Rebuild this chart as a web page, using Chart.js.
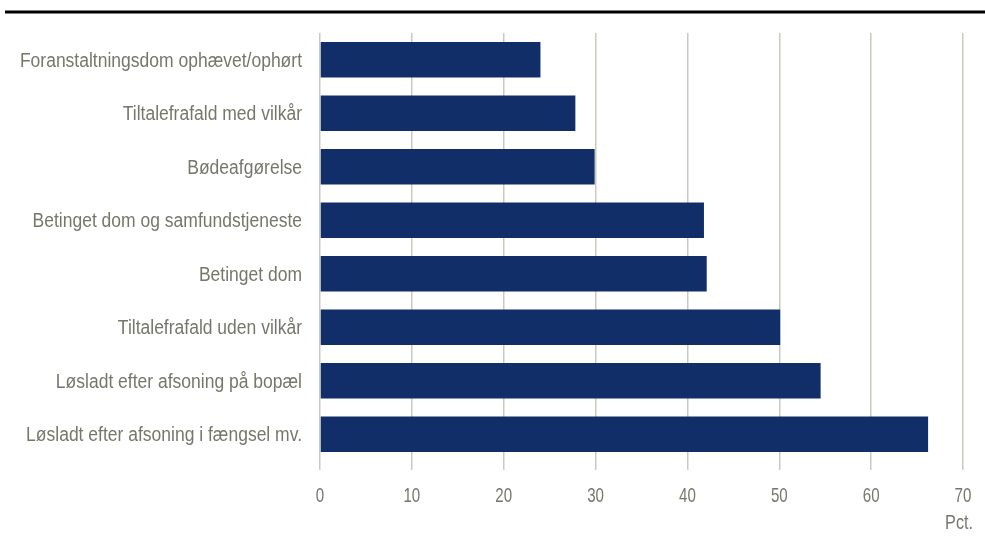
<!DOCTYPE html>
<html>
<head>
<meta charset="utf-8">
<script src="https://cdn.jsdelivr.net/npm/chart.js@4"></script>
<style>
  html, body { margin: 0; padding: 0; background: #fff; }
  #wrap { width: 985px; height: 544px; position: relative; }
</style>
</head>
<body>
<div id="wrap"><canvas id="myChart"></canvas></div>
<script>
const categories = [
    "Foranstaltningsdom ophævet/ophørt",
    "Tiltalefrafald med vilkår",
    "Bødeafgørelse",
    "Betinget dom og samfundstjeneste",
    "Betinget dom",
    "Tiltalefrafald uden vilkår",
    "Løsladt efter afsoning på bopæl",
    "Løsladt efter afsoning i fængsel mv."
] ;
const values = [24, 27.8, 29.9, 41.8, 42.1, 50.1, 54.5, 66.2] ;
const xTicks = [0, 10, 20, 30, 40, 50, 60, 70] ;
const unitLabel = "Pct." ;

const textColor = "#76776b" ;
const fontFamily = "'Liberation Sans', Arial, sans-serif" ;

// no narrow font installed, so squeeze the regular one
function narrowText(c, text, x, y, align, sx) {
    c.save() ;
    c.translate(x, y) ;
    c.scale(sx, 1) ;
    c.textAlign = align ;
    c.fillText(text, 0, 0) ;
    c.restore() ;
}

// black rule at the top, narrow tick labels and the unit label
const extras = {
    id: 'extras',
    afterDraw(chart) {
        const c = chart.ctx ;
        const xs = chart.scales.x ;
        const ys = chart.scales.y ;
        c.save() ;
        c.strokeStyle = '#000' ;
        c.lineWidth = 3 ;
        c.beginPath() ;
        c.moveTo(5, 12) ;
        c.lineTo(985, 12) ;
        c.stroke() ;

        c.fillStyle = textColor ;
        c.textBaseline = 'middle' ;
        c.font = "20px " + fontFamily ;
        ys.ticks.forEach((t, i) => {
            narrowText(c, ys.getLabelForValue(t.value), ys.right - 18, ys.getPixelForTick(i) + 1.5, 'right', 0.875) ;
        }) ;
        narrowText(c, unitLabel, xs.right + 10, xs.top + 62, 'right', 0.81) ;
        c.font = "21px " + fontFamily ;
        xs.ticks.forEach((t, i) => {
            narrowText(c, String(t.value), xs.getPixelForTick(i), xs.top + 35, 'center', 0.72) ;
        }) ;
        c.restore() ;
    }
} ;

const ctx = document.getElementById('myChart') ;
const myChart = new Chart(ctx, {
    type: 'bar',
    data: {
        labels: categories,
        datasets: [{
            data: values,
            backgroundColor: '#112e69',
            borderWidth: 0,
            barPercentage: 0.665,
            categoryPercentage: 1
        }]
    },
    options: {
        indexAxis: 'y',
        responsive: true,
        maintainAspectRatio: false,
        animation: false,
        layout: { padding: { top: 33, right: 22, left: 0, bottom: 0 } },
        plugins: {
            legend: { display: false },
            tooltip: { enabled: false }
        },
        scales: {
            x: {
                min: 0,
                max: 70,
                afterBuildTicks: (scale) => {
                    scale.ticks = xTicks.map(v => ({ value: v })) ;
                },
                afterFit: (scale) => { scale.height = 83 ; },
                border: { display: false },
                grid: {
                    color: '#c9c9c0',
                    lineWidth: 1.5,
                    drawTicks: true,
                    tickLength: 9
                },
                ticks: { display: false }
            },
            y: {
                afterFit: (scale) => { scale.width = 320 ; },
                border: { display: false },
                grid: { display: false },
                ticks: { display: false }
            }
        }
    },
    plugins: [extras]
}) ;
</script>
</body>
</html>
